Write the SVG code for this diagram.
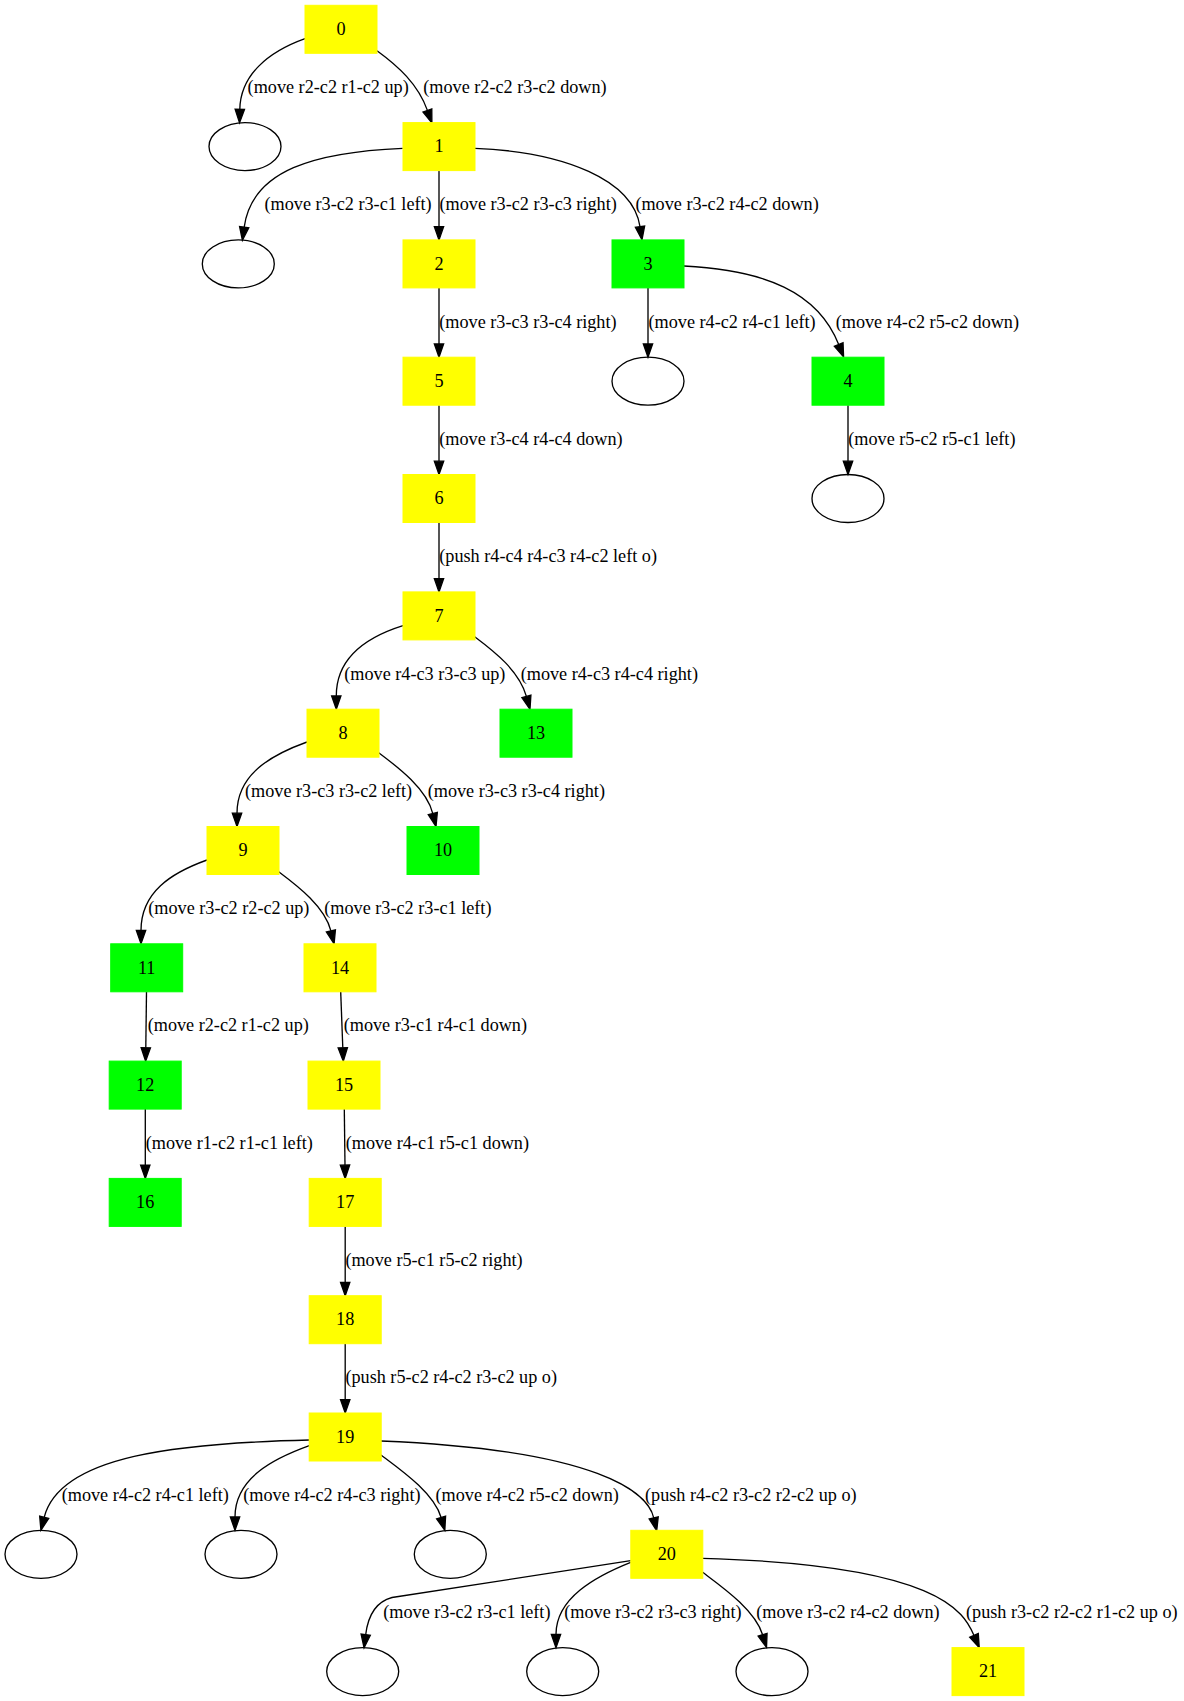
<svg xmlns="http://www.w3.org/2000/svg" width="1184" height="1701" viewBox="0 0 1184 1701">
<defs>
<style>
.y{fill:#ffff00;stroke:#ffff00;stroke-width:1}
.g{fill:#00ff00;stroke:#00ff00;stroke-width:1}
.el{fill:none;stroke:#000;stroke-width:1.33}
.nt{font-family:"Liberation Serif","Times New Roman",serif;font-size:18.2px;fill:#000;text-anchor:middle}
.e path{fill:none;stroke:#000;stroke-width:1.33;marker-end:url(#arr)}
.e text{font-family:"Liberation Serif","Times New Roman",serif;font-size:18.2px;fill:#000}
</style>
<marker id="arr" markerUnits="userSpaceOnUse" markerWidth="16" markerHeight="12" refX="0" refY="4.67" orient="auto" overflow="visible">
<path d="M0,0 L13.33,4.67 L0,9.33 z" fill="#000" stroke="#000" stroke-width="1.33"/>
</marker>
</defs>
<rect width="1184" height="1701" fill="#fff"/>
<g id="edges" class="e">
<path d="M305,38.7 C268,52 240.5,75 239.8,109.4"/>
<text x="247.6" y="93">(move r2-c2 r1-c2 up)</text>
<path d="M377,50.7 C398,66 418,84 427.4,110.4"/>
<text x="423.3" y="93">(move r2-c2 r3-c2 down)</text>
<path d="M402.7,148.3 C315,152 252,170 244.2,227.1"/>
<text x="264.5" y="210.3">(move r3-c2 r3-c1 left)</text>
<path d="M439,170.7 L439,226.6"/>
<text x="439.5" y="210.3">(move r3-c2 r3-c3 right)</text>
<path d="M475,148.3 C565,152 633,180 640,226.7"/>
<text x="635.4" y="210.3">(move r3-c2 r4-c2 down)</text>
<path d="M439,287.9 L439,343.9"/>
<text x="439.3" y="327.6">(move r3-c3 r3-c4 right)</text>
<path d="M648,287.9 L648,343.9"/>
<text x="648.5" y="327.6">(move r4-c2 r4-c1 left)</text>
<path d="M684,266 C765,270 818,292 838.7,344.5"/>
<text x="835.7" y="327.6">(move r4-c2 r5-c2 down)</text>
<path d="M439,405.2 L439,461.2"/>
<text x="439.3" y="444.9">(move r3-c4 r4-c4 down)</text>
<path d="M848,405.2 L848,461.2"/>
<text x="848.3" y="444.9">(move r5-c2 r5-c1 left)</text>
<path d="M439,522.5 L439,578.6"/>
<text x="439.3" y="562.2">(push r4-c4 r4-c3 r4-c2 left o)</text>
<path d="M403,625.7 C367,637 336.3,657 336.3,695.9"/>
<text x="344.3" y="679.5">(move r4-c3 r3-c3 up)</text>
<path d="M474.7,636.7 C494.7,651.7 519.3,671 526.4,696.4"/>
<text x="520.7" y="679.5">(move r4-c3 r4-c4 right)</text>
<path d="M307,742 C271.3,754.9 237,774 237,813.2"/>
<text x="245" y="796.8">(move r3-c3 r3-c2 left)</text>
<path d="M378.7,752.7 C398.7,767.7 426.7,789 432.8,813.6"/>
<text x="427.7" y="796.8">(move r3-c3 r3-c4 right)</text>
<path d="M207,860 C171,873 141,892 141,930.5"/>
<text x="148.3" y="914.1">(move r3-c2 r2-c2 up)</text>
<path d="M278.7,871.7 C298.7,886.7 325,907 330.9,930.9"/>
<text x="324.3" y="914.1">(move r3-c2 r3-c1 left)</text>
<path d="M146.5,991.8 L145.8,1047.8"/>
<text x="147.7" y="1031.4">(move r2-c2 r1-c2 up)</text>
<path d="M340.7,991.8 L342.8,1047.8"/>
<text x="343.7" y="1031.4">(move r3-c1 r4-c1 down)</text>
<path d="M145.3,1109.1 L145.3,1165.1"/>
<text x="145.7" y="1148.7">(move r1-c2 r1-c1 left)</text>
<path d="M344.3,1109.1 L345,1165.1"/>
<text x="345.7" y="1148.7">(move r4-c1 r5-c1 down)</text>
<path d="M345.2,1226.4 L345.2,1282.4"/>
<text x="345.4" y="1266">(move r5-c1 r5-c2 right)</text>
<path d="M345.2,1343.7 L345.2,1399.7"/>
<text x="345.4" y="1383.3">(push r5-c2 r4-c2 r3-c2 up o)</text>
<path d="M309.3,1440 C180,1443 60,1455 44.2,1517.3"/>
<text x="61.7" y="1500.6">(move r4-c2 r4-c1 left)</text>
<path d="M309.3,1445.7 C273.6,1458.6 235,1478 235,1517"/>
<text x="243.3" y="1500.6">(move r4-c2 r4-c3 right)</text>
<path d="M381,1455 C401,1470 434,1493 441.1,1517.5"/>
<text x="435.5" y="1500.6">(move r4-c2 r5-c2 down)</text>
<path d="M381,1441 C600,1450 648,1493 653.7,1517.8"/>
<text x="645" y="1500.6">(push r4-c2 r3-c2 r2-c2 up o)</text>
<path d="M630.7,1560.7 L392,1597.5 C375,1602 368,1616 365.7,1634.6"/>
<text x="383.3" y="1617.9">(move r3-c2 r3-c1 left)</text>
<path d="M630.7,1562.3 C595.4,1576.4 556,1598 556,1634.3"/>
<text x="564.3" y="1617.9">(move r3-c2 r3-c3 right)</text>
<path d="M702.7,1572.3 C722.7,1587.3 755,1610 762.6,1634.7"/>
<text x="756.3" y="1617.9">(move r3-c2 r4-c2 down)</text>
<path d="M702.7,1558.3 C940,1565 964,1612 974,1635.4"/>
<text x="966" y="1617.9">(push r3-c2 r2-c2 r1-c2 up o)</text>
</g>
<g id="n0"><rect class="y" x="305" y="5.3" width="72" height="48"/><text class="nt" x="341" y="35">0</text></g>
<g id="n1"><rect class="y" x="403" y="122.6" width="72" height="48"/><text class="nt" x="439" y="152.3">1</text></g>
<g id="n2"><rect class="y" x="403" y="239.9" width="72" height="48"/><text class="nt" x="439" y="269.6">2</text></g>
<g id="n3"><rect class="g" x="612" y="239.9" width="72" height="48"/><text class="nt" x="648" y="269.6">3</text></g>
<g id="n4"><rect class="g" x="812" y="357.2" width="72" height="48"/><text class="nt" x="848" y="386.9">4</text></g>
<g id="n5"><rect class="y" x="403" y="357.2" width="72" height="48"/><text class="nt" x="439" y="386.9">5</text></g>
<g id="n6"><rect class="y" x="403" y="474.5" width="72" height="48"/><text class="nt" x="439" y="504.2">6</text></g>
<g id="n7"><rect class="y" x="403" y="591.9" width="72" height="48"/><text class="nt" x="439" y="621.6">7</text></g>
<g id="n8"><rect class="y" x="307" y="709.2" width="72" height="48"/><text class="nt" x="343" y="738.9">8</text></g>
<g id="n13"><rect class="g" x="500" y="709.2" width="72" height="48"/><text class="nt" x="536" y="738.9">13</text></g>
<g id="n9"><rect class="y" x="207" y="826.5" width="72" height="48"/><text class="nt" x="243" y="856.2">9</text></g>
<g id="n10"><rect class="g" x="407" y="826.5" width="72" height="48"/><text class="nt" x="443" y="856.2">10</text></g>
<g id="n11"><rect class="g" x="110.7" y="943.8" width="72" height="48"/><text class="nt" x="146.7" y="973.5">11</text></g>
<g id="n14"><rect class="y" x="304" y="943.8" width="72" height="48"/><text class="nt" x="340" y="973.5">14</text></g>
<g id="n12"><rect class="g" x="109.2" y="1061.1" width="72" height="48"/><text class="nt" x="145.2" y="1090.8">12</text></g>
<g id="n15"><rect class="y" x="308" y="1061.1" width="72" height="48"/><text class="nt" x="344" y="1090.8">15</text></g>
<g id="n16"><rect class="g" x="109.2" y="1178.4" width="72" height="48"/><text class="nt" x="145.2" y="1208.1">16</text></g>
<g id="n17"><rect class="y" x="309.2" y="1178.4" width="72" height="48"/><text class="nt" x="345.2" y="1208.1">17</text></g>
<g id="n18"><rect class="y" x="309.2" y="1295.7" width="72" height="48"/><text class="nt" x="345.2" y="1325.4">18</text></g>
<g id="n19"><rect class="y" x="309.2" y="1413" width="72" height="48"/><text class="nt" x="345.2" y="1442.7">19</text></g>
<g id="n20"><rect class="y" x="630.8" y="1530.3" width="72" height="48"/><text class="nt" x="666.8" y="1560">20</text></g>
<g id="n21"><rect class="y" x="952" y="1647.6" width="72" height="48"/><text class="nt" x="988" y="1677.3">21</text></g>
<g id="e0"><ellipse class="el" cx="245" cy="146.6" rx="36" ry="24"/></g>
<g id="e1"><ellipse class="el" cx="238.3" cy="263.9" rx="36" ry="24"/></g>
<g id="e3"><ellipse class="el" cx="648" cy="381.2" rx="36" ry="24"/></g>
<g id="e4"><ellipse class="el" cx="848" cy="498.5" rx="36" ry="24"/></g>
<g id="e19a"><ellipse class="el" cx="41" cy="1554.3" rx="36" ry="24"/></g>
<g id="e19b"><ellipse class="el" cx="241" cy="1554.3" rx="36" ry="24"/></g>
<g id="e19c"><ellipse class="el" cx="450.3" cy="1554.3" rx="36" ry="24"/></g>
<g id="e20a"><ellipse class="el" cx="362.7" cy="1671.6" rx="36" ry="24"/></g>
<g id="e20b"><ellipse class="el" cx="562.7" cy="1671.6" rx="36" ry="24"/></g>
<g id="e20c"><ellipse class="el" cx="772" cy="1671.6" rx="36" ry="24"/></g>
</svg>
